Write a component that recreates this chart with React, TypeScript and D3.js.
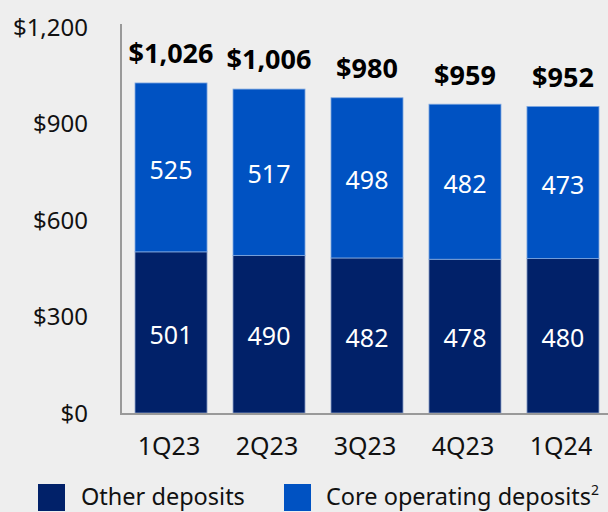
import React from "react";
import * as d3 from "d3";

// quarters and deposit balances ($B)
const quarters = ["1Q23", "2Q23", "3Q23", "4Q23", "1Q24"];
const otherDeposits = [501, 490, 482, 478, 480];
const coreDeposits = [525, 517, 498, 482, 473];
const totals = [1026, 1006, 980, 959, 952];
const yTicks = [0, 300, 600, 900, 1200];

const W = 608;
const H = 512;
const NAVY = "#012169";
const BLUE = "#0052c2";
const FONT = "'Noto Sans', 'Open Sans', sans-serif";

const App = () => {
  const x = d3
    .scaleBand<string>()
    .domain(quarters)
    .range([121, 613])
    .paddingInner(0.265)
    .paddingOuter(0.143);
  const y = d3.scaleLinear().domain([0, 1200]).range([413, 27]);
  const fmt = d3.format(",");

  return (
    <svg
      width={W}
      height={H}
      style={{ display: "block", position: "absolute", left: 0, top: 0, background: "#eeeeee" }}
      fontFamily={FONT}
    >
      <rect width={W} height={H} fill="#eeeeee" />

      {/* y tick labels */}
      {yTicks.map((t) => (
        <text key={t} x={88} y={y(t)} dy="0.36em" textAnchor="end" fontSize={24} fill="#111">
          ${fmt(t)}
        </text>
      ))}

      {/* bars */}
      {quarters.map((q, i) => {
        const bx = x(q)!;
        const bw = x.bandwidth();
        const other = otherDeposits[i];
        const core = coreDeposits[i];
        return (
          <g key={q}>
            <rect x={bx} y={y(other)} width={bw} height={y(0) - y(other)} fill={NAVY} stroke="#8ea2c9" strokeWidth={0.8} />
            <rect
              x={bx}
              y={y(other + core)}
              width={bw}
              height={y(other) - y(other + core)}
              fill={BLUE}
              stroke="#7fa8e0"
              strokeWidth={0.8}
            />
            <text x={bx + bw / 2} y={(y(0) + y(other)) / 2} dy="0.45em" textAnchor="middle" fontSize={25} fill="#fff">
              {other}
            </text>
            <text
              x={bx + bw / 2}
              y={(y(other) + y(other + core)) / 2}
              dy="0.45em"
              textAnchor="middle"
              fontSize={25}
              fill="#fff"
            >
              {core}
            </text>
            <text x={bx + bw / 2} y={y(totals[i]) - 20} textAnchor="middle" fontSize={27} fontWeight="bold" fill="#000">
              ${fmt(totals[i])}
            </text>
            <text x={bx + bw / 2 - 2} y={455} textAnchor="middle" fontSize={25} fill="#111">
              {q}
            </text>
          </g>
        );
      })}

      {/* axes */}
      <line x1={121} x2={121} y1={24} y2={414} stroke="#999" strokeWidth={2} />
      <line x1={120} x2={W} y1={414} y2={414} stroke="#999" strokeWidth={2} />

      {/* legend */}
      <rect x={38} y={484} width={27} height={27} fill={NAVY} />
      <text x={81} y={505} fontSize={23.5} fill="#111">
        Other deposits
      </text>
      <rect x={284} y={484} width={27} height={27} fill={BLUE} />
      <text x={326} y={505} fontSize={23.5} fill="#111">
        Core operating deposits
        <tspan fontSize={14} dy={-10}>
          2
        </tspan>
      </text>
    </svg>
  );
};

export default App;
